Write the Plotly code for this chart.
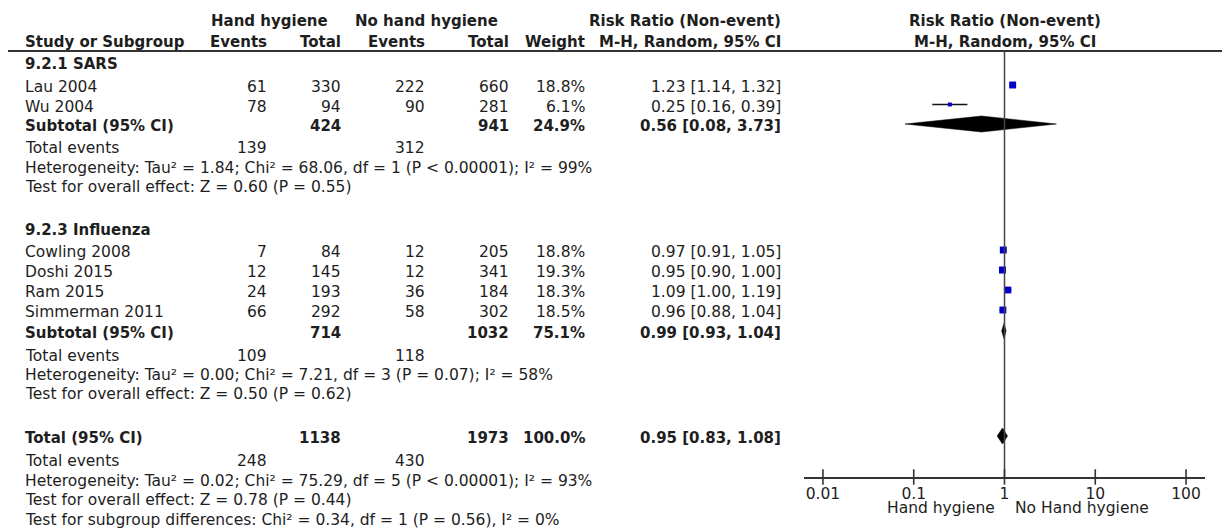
import plotly.graph_objects as go
import math

# ---------------- data ----------------
sars_studies = ["Lau 2004", "Wu 2004"]
sars_hh_events = [61, 78]
sars_hh_total = [330, 94]
sars_nh_events = [222, 90]
sars_nh_total = [660, 281]
sars_weight = [18.8, 6.1]
sars_rr = [1.23, 0.25]
sars_lo = [1.14, 0.16]
sars_hi = [1.32, 0.39]

flu_studies = ["Cowling 2008", "Doshi 2015", "Ram 2015", "Simmerman 2011"]
flu_hh_events = [7, 12, 24, 66]
flu_hh_total = [84, 145, 193, 292]
flu_nh_events = [12, 12, 36, 58]
flu_nh_total = [205, 341, 184, 302]
flu_weight = [18.8, 19.3, 18.3, 18.5]
flu_rr = [0.97, 0.95, 1.09, 0.96]
flu_lo = [0.91, 0.90, 1.00, 0.88]
flu_hi = [1.05, 1.00, 1.19, 1.04]

# pooled: [SARS subtotal, Influenza subtotal, Total]
pooled_label = ["Subtotal (95% CI)", "Subtotal (95% CI)", "Total (95% CI)"]
pooled_hh_total = [424, 714, 1138]
pooled_nh_total = [941, 1032, 1973]
pooled_weight = [24.9, 75.1, 100.0]
pooled_rr = [0.56, 0.99, 0.95]
pooled_lo = [0.08, 0.93, 0.83]
pooled_hi = [3.73, 1.04, 1.08]
pooled_hh_events = [139, 109, 248]
pooled_nh_events = [312, 118, 430]
pooled_het = [
    "Heterogeneity: Tau² = 1.84; Chi² = 68.06, df = 1 (P < 0.00001); I² = 99%",
    "Heterogeneity: Tau² = 0.00; Chi² = 7.21, df = 3 (P = 0.07); I² = 58%",
    "Heterogeneity: Tau² = 0.02; Chi² = 75.29, df = 5 (P < 0.00001); I² = 93%",
]
pooled_test = [
    "Test for overall effect: Z = 0.60 (P = 0.55)",
    "Test for overall effect: Z = 0.50 (P = 0.62)",
    "Test for overall effect: Z = 0.78 (P = 0.44)",
]
subgroup_test = "Test for subgroup differences: Chi² = 0.34, df = 1 (P = 0.56), I² = 0%"
section_titles = ["9.2.1 SARS", "9.2.3 Influenza"]

tick_vals = [0.01, 0.1, 1, 10, 100]
tick_text = ["0.01", "0.1", "1", "10", "100"]
favours_left = "Hand hygiene"
favours_right = "No Hand hygiene"

# ---------------- layout constants ----------------
W, H = 1226, 531
FONT = "DejaVu Sans"
FS = 15.5
FSB = 15
TXT = "#1e1e1e"
BLUE = "#0000c8"
TEXT_YSHIFT = -2

# column anchors (pixels from left)
C_STUDY = 23
C_HH_EV = 269
C_HH_TOT = 343
C_NH_EV = 427
C_NH_TOT = 511
C_W = 587
C_RR = 783
C_PLOT_HDR = 1005

# vertical row positions (pixels from top)
Y_HEAD1, Y_HEAD2, Y_RULE = 21, 42, 51
Y_SARS_HEAD = 62
Y_SARS = [85, 104.5]
Y_SARS_SUB, Y_SARS_EV, Y_SARS_HET, Y_SARS_TEST = 124, 146, 166, 185
Y_FLU_HEAD = 228
Y_FLU = [250, 270, 290, 310]
Y_FLU_SUB, Y_FLU_EV, Y_FLU_HET, Y_FLU_TEST = 331, 354, 373, 392
Y_TOT, Y_TOT_EV, Y_TOT_HET, Y_TOT_TEST, Y_SUBGRP = 436, 459, 479, 498, 518
Y_AXIS = 477
Y_FAVOURS = 508

PLOT_L, PLOT_R = 804, 1205
DIAMOND_HALF = 8

fig = go.Figure()
ann = []


def txt(xpx, y, s, anchor="left", bold=False, yshift=TEXT_YSHIFT):
    ann.append(dict(
        x=xpx / W, xref="paper", y=y, yref="y", text=f"<b>{s}</b>" if bold else s,
        showarrow=False, xanchor=anchor, yanchor="middle", yshift=yshift,
        font=dict(family=FONT, size=FSB if bold else FS, color=TXT),
    ))


def rr_str(r, l, h):
    return f"{r:.2f} [{l:.2f}, {h:.2f}]"


# headers
txt(269, Y_HEAD1, "Hand hygiene", "center", True, 0)
txt(426, Y_HEAD1, "No hand hygiene", "center", True, 0)
txt(C_RR, Y_HEAD1, "Risk Ratio (Non-event)", "right", True, 0)
txt(C_PLOT_HDR, Y_HEAD1, "Risk Ratio (Non-event)", "center", True, 0)
txt(C_STUDY, Y_HEAD2, "Study or Subgroup", "left", True, 0)
txt(C_HH_EV, Y_HEAD2, "Events", "right", True, 0)
txt(C_HH_TOT, Y_HEAD2, "Total", "right", True, 0)
txt(C_NH_EV, Y_HEAD2, "Events", "right", True, 0)
txt(C_NH_TOT, Y_HEAD2, "Total", "right", True, 0)
txt(C_W, Y_HEAD2, "Weight", "right", True, 0)
txt(C_RR, Y_HEAD2, "M-H, Random, 95% CI", "right", True, 0)
txt(C_PLOT_HDR, Y_HEAD2, "M-H, Random, 95% CI", "center", True, 0)

groups = [
    (sars_studies, sars_hh_events, sars_hh_total, sars_nh_events, sars_nh_total,
     sars_weight, sars_rr, sars_lo, sars_hi, Y_SARS_HEAD, Y_SARS),
    (flu_studies, flu_hh_events, flu_hh_total, flu_nh_events, flu_nh_total,
     flu_weight, flu_rr, flu_lo, flu_hi, Y_FLU_HEAD, Y_FLU),
]

pooled_y = [(Y_SARS_SUB, Y_SARS_EV, Y_SARS_HET, Y_SARS_TEST),
            (Y_FLU_SUB, Y_FLU_EV, Y_FLU_HET, Y_FLU_TEST),
            (Y_TOT, Y_TOT_EV, Y_TOT_HET, Y_TOT_TEST)]

for gi, (st, he, ht, ne, nt, wt, rr, lo, hi, yh, ys) in enumerate(groups):
    txt(C_STUDY, yh, section_titles[gi], "left", True)
    for i in range(len(st)):
        y = ys[i]
        txt(C_STUDY, y, st[i])
        txt(C_HH_EV, y, str(he[i]), "right")
        txt(C_HH_TOT, y, str(ht[i]), "right")
        txt(C_NH_EV, y, str(ne[i]), "right")
        txt(C_NH_TOT, y, str(nt[i]), "right")
        txt(C_W, y, f"{wt[i]:.1f}%", "right")
        txt(C_RR, y, rr_str(rr[i], lo[i], hi[i]), "right")
        # CI line
        fig.add_trace(go.Scatter(x=[lo[i], hi[i]], y=[y, y], mode="lines",
                                 line=dict(color="#111111", width=1.3),
                                 hoverinfo="skip", showlegend=False))
        # weight square
        fig.add_trace(go.Scatter(x=[rr[i]], y=[y], mode="markers",
                                 marker=dict(symbol="square", color=BLUE,
                                             size=1.6 * math.sqrt(wt[i]), line=dict(width=0)),
                                 hoverinfo="skip", showlegend=False))

for k in range(3):
    ysub, yev, yhet, ytest = pooled_y[k]
    txt(C_STUDY, ysub, pooled_label[k], "left", True)
    txt(C_HH_TOT, ysub, str(pooled_hh_total[k]), "right", True)
    txt(C_NH_TOT, ysub, str(pooled_nh_total[k]), "right", True)
    txt(C_W, ysub, f"{pooled_weight[k]:.1f}%", "right", True)
    txt(C_RR, ysub, rr_str(pooled_rr[k], pooled_lo[k], pooled_hi[k]), "right", True)
    txt(C_STUDY, yev, "Total events")
    txt(C_HH_EV, yev, str(pooled_hh_events[k]), "right")
    txt(C_NH_EV, yev, str(pooled_nh_events[k]), "right")
    txt(C_STUDY, yhet, pooled_het[k])
    txt(C_STUDY, ytest, pooled_test[k])
    # diamond
    fig.add_trace(go.Scatter(
        x=[pooled_lo[k], pooled_rr[k], pooled_hi[k], pooled_rr[k], pooled_lo[k]],
        y=[ysub, ysub - DIAMOND_HALF, ysub, ysub + DIAMOND_HALF, ysub],
        mode="lines", fill="toself", fillcolor="#000000",
        line=dict(color="#000000", width=0.5), hoverinfo="skip", showlegend=False))

txt(C_STUDY, Y_SUBGRP, subgroup_test)

# null line at RR = 1
fig.add_trace(go.Scatter(x=[1, 1], y=[Y_RULE, Y_AXIS], mode="lines",
                         line=dict(color="#444444", width=1.5),
                         hoverinfo="skip", showlegend=False))
# crossing tick marks
fig.add_trace(go.Scatter(x=tick_vals, y=[Y_AXIS] * len(tick_vals), mode="markers",
                         marker=dict(symbol="line-ns-open", size=11, color="#333333",
                                     line=dict(color="#333333", width=1.6)),
                         hoverinfo="skip", showlegend=False, cliponaxis=False))

# favours labels
ann.append(dict(x=0, xref="x", y=Y_FAVOURS, yref="y", text=favours_left, showarrow=False,
                xanchor="right", yanchor="middle", xshift=-8,
                font=dict(family=FONT, size=FS, color=TXT)))
ann.append(dict(x=0, xref="x", y=Y_FAVOURS, yref="y", text=favours_right, showarrow=False,
                xanchor="left", yanchor="middle", xshift=8,
                font=dict(family=FONT, size=FS, color=TXT)))

lim = math.log10(100) + (19 / 91)
fig.update_layout(
    width=W, height=H, margin=dict(l=0, r=0, t=0, b=0),
    paper_bgcolor="white", plot_bgcolor="rgba(0,0,0,0)",
    showlegend=False, annotations=ann, hovermode=False,
    shapes=[dict(type="line", xref="paper", yref="y", x0=8 / W, x1=1222 / W,
                 y0=Y_RULE, y1=Y_RULE, line=dict(color="#333333", width=2))],
    xaxis=dict(type="log", domain=[PLOT_L / W, PLOT_R / W], range=[-lim, lim],
               anchor="free", position=(H - Y_AXIS) / H,
               tickvals=tick_vals, ticktext=tick_text,
               ticks="outside", ticklen=2, tickcolor="rgba(0,0,0,0)",
               showline=True, linecolor="#333333", linewidth=1.6,
               showgrid=False, zeroline=False, fixedrange=True,
               tickfont=dict(family=FONT, size=FS, color=TXT)),
    yaxis=dict(domain=[0, 1], range=[H, 0], visible=False, showgrid=False,
               zeroline=False, fixedrange=True),
)

fig.write_html("out.html", config={"displayModeBar": False, "staticPlot": True},
               post_script="document.body.style.margin='0px';document.body.style.overflow='hidden';")
